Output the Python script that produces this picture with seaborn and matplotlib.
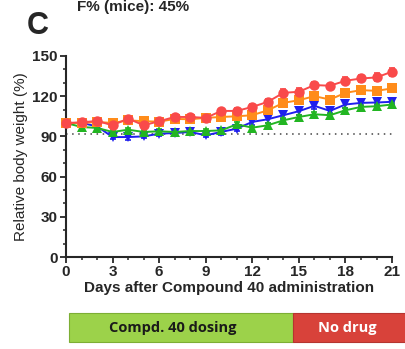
import numpy as np
import pandas as pd
import matplotlib
matplotlib.use("Agg")
import matplotlib.pyplot as plt
import seaborn as sns
from matplotlib.patches import Rectangle

# DATA
days = list(range(22))
red = [100, 100.5, 101.5, 98.3, 103.3, 98.3, 101.3, 104.5, 104.5, 103.8, 109, 109,
       112, 115.8, 122.5, 123.3, 128.3, 127.8, 131.5, 133.2, 134, 138.3]
orange = [100, 100, 100.8, 100, 102, 101.3, 101, 103, 102.8, 103.8, 104.5, 105,
          105.8, 109.5, 115, 117, 120, 117.5, 122.5, 124.5, 124, 125.8]
blue = [100, 100, 97.5, 89.5, 89.5, 90, 92, 92.5, 93.3, 90.8, 93.3, 95.8,
        100.8, 102.8, 105.8, 108.8, 112.8, 109, 113.8, 115, 115.3, 115.8]
green = [100, 97, 96.3, 93.3, 95, 93.3, 93.8, 93.3, 94, 94, 94.5, 99,
         96.5, 98.3, 102, 104.5, 106.5, 105.8, 109.5, 112, 112.5, 113.8]
red_err = [1, 1, 1.5, 1.5, 1.5, 1.5, 1.5, 1.5, 1.5, 1.5, 1.5, 2,
           2, 2, 2.5, 2.5, 2, 1.5, 2.5, 2.5, 3, 3]
orange_err = [1, 1, 1.5, 1.5, 1.5, 1.5, 1.5, 1.5, 1.5, 1.5, 1.5, 1.5,
              2, 2, 2, 2, 2, 2, 2, 2, 2, 2]
blue_err = [1, 1, 1.5, 1.5, 2, 1.5, 1.5, 1.5, 2, 1.5, 2, 2,
            2.5, 2.5, 2.5, 2.5, 2.5, 2.5, 2.5, 2, 2, 2]
green_err = [1, 1, 1.5, 1.5, 1.5, 1.5, 1.5, 1.5, 1.5, 1.5, 1.5, 1.5,
             1.5, 1.5, 1.5, 1.5, 1.5, 1.5, 1.5, 1.5, 1.5, 1.5]
threshold = 91.5

groups = ["blue", "green", "orange", "red"]
values = {"blue": blue, "green": green, "orange": orange, "red": red}
errors = {"blue": blue_err, "green": green_err, "orange": orange_err, "red": red_err}
colors = {"blue": "#1F1FEE", "green": "#22B522", "orange": "#FF8C1A", "red": "#F94A4A"}
markers = {"blue": "v", "green": "^", "orange": "s", "red": "o"}

df = pd.DataFrame({
    "day": days * 4,
    "weight": blue + green + orange + red,
    "group": [g for g in groups for _ in days],
})

sns.set_style("ticks")
plt.rcParams["font.family"] = ["Liberation Sans", "DejaVu Sans"]

fig = plt.figure(figsize=(4.06, 3.49), dpi=100)
ax = fig.add_axes([0.1626, 0.2636, 0.803, 0.576])

# error bars first, then lines/markers on top
for g in groups:
    ax.errorbar(days, values[g], yerr=errors[g], fmt="none", ecolor=colors[g],
                elinewidth=1.2, capsize=2.5, capthick=1.2, clip_on=False, zorder=2)

sns.lineplot(data=df, x="day", y="weight", hue="group", style="group",
             hue_order=groups, style_order=groups, palette=colors, markers=markers,
             dashes=False, markersize=7.5, markeredgewidth=0, linewidth=1.4,
             legend=False, ax=ax, clip_on=False, zorder=3)

ax.axhline(threshold, color="#444444", linestyle=(0, (1, 3)), linewidth=1.1, zorder=1)

ax.set_xlim(0, 21)
ax.set_ylim(0, 150)
ax.set_xticks(range(0, 22, 3))
ax.set_xticks(range(0, 22), minor=True)
ax.set_yticks(range(0, 151, 30))
ax.set_yticks(range(0, 151, 10), minor=True)
ax.tick_params(axis="both", which="major", length=4, width=1.3, labelsize=11, pad=2)
ax.tick_params(axis="both", which="minor", length=2.5, width=1.1)
for lab in ax.get_xticklabels() + ax.get_yticklabels():
    lab.set_fontweight("bold")
for s in ["left", "bottom"]:
    ax.spines[s].set_linewidth(1.5)
sns.despine(ax=ax)

ax.set_xlabel("Days after Compound 40 administration", fontsize=11,
              fontweight="bold", labelpad=1)
ax.set_ylabel("Relative body weight (%)", fontsize=11, labelpad=3)

# panel letter and header
fig.text(0.093, 0.925, "C", fontsize=22, fontweight="bold", ha="center", va="center")
fig.text(0.19, 0.9685, "F% (mice): 45%", fontsize=11, fontweight="bold",
         ha="left", va="baseline")

# dosing bar
bax = fig.add_axes([0, 0, 1, 1], facecolor="none")
bax.set_xlim(0, 406)
bax.set_ylim(349, 0)
bax.axis("off")
bax.add_patch(Rectangle((69, 313), 224, 29, facecolor="#9CD24A", edgecolor="#7DAE35",
                        linewidth=0.8))
bax.add_patch(Rectangle((293, 313), 115, 29, facecolor="#D8423A", edgecolor="#B53530",
                        linewidth=0.8))
bax.text(173, 328, "Compd. 40 dosing", fontsize=10.5, fontweight="bold", color="#1A1A1A",
         ha="center", va="center", family=["Open Sans", "DejaVu Sans"])
bax.text(347, 328, "No drug", fontsize=10.5, fontweight="bold", color="white",
         ha="center", va="center", family=["Open Sans", "DejaVu Sans"])

fig.savefig("out.png", dpi=100)
